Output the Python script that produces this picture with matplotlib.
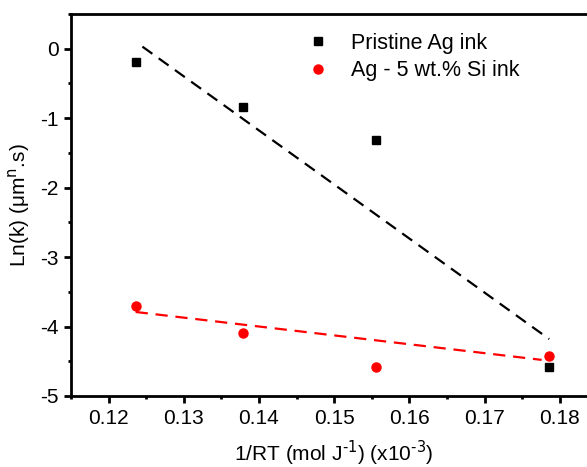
import matplotlib
matplotlib.use("Agg")
import matplotlib.pyplot as plt
from matplotlib.ticker import MultipleLocator, AutoMinorLocator

plt.rcParams['font.family'] = ['Liberation Sans', 'DejaVu Sans']

# Data
x_pristine = [0.1236, 0.13785, 0.1556, 0.1786]
y_pristine = [-0.19, -0.84, -1.32, -4.58]
x_si = [0.1236, 0.13785, 0.1556, 0.1786]
y_si = [-3.71, -4.10, -4.58, -4.42]

# Fit lines (endpoints)
fit_x_pristine = [0.1245, 0.1786]
fit_y_pristine = [0.03, -4.18]
fit_x_si = [0.1236, 0.1776]
fit_y_si = [-3.79, -4.48]

labels = ['Pristine Ag ink', 'Ag - 5 wt.% Si ink']

fig = plt.figure(figsize=(5.87, 4.67), dpi=100)
ax = fig.add_axes([71/587, 71/467, 526.3/587, 382/467])

ax.plot(fit_x_pristine, fit_y_pristine, color='black', lw=1.6, dashes=(5.5, 3.5), zorder=2)
ax.plot(fit_x_si, fit_y_si, color='red', lw=1.6, dashes=(5.5, 3.5), zorder=2)
ax.plot(x_pristine, y_pristine, ls='none', marker='s', ms=5.5, color='black', label=labels[0], zorder=3)
ax.plot(x_si, y_si, ls='none', marker='o', ms=6.5, color='red', label=labels[1], zorder=3)

ax.set_xlim(0.115, 0.185)
ax.set_ylim(-5, 0.5)
ax.xaxis.set_minor_locator(AutoMinorLocator(2))
ax.yaxis.set_minor_locator(AutoMinorLocator(2))
ax.set_xticks([0.12, 0.13, 0.14, 0.15, 0.16, 0.17, 0.18])
ax.set_xticklabels(['0.12', '0.13', '0.14', '0.15', '0.16', '0.17', '0.18'])
ax.set_yticks([0, -1, -2, -3, -4, -5])
ax.set_yticklabels(['0', '-1', '-2', '-3', '-4', '-5'])

for s in ax.spines.values():
    s.set_linewidth(2)
ax.tick_params(which='major', direction='out', length=5, width=2, labelsize=15, pad=4)
ax.tick_params(which='minor', direction='out', length=2.5, width=2)

ax.set_xlabel('1/RT (mol J$^{\\text{-1}}$) (x10$^{\\text{-3}}$)', fontsize=15, labelpad=8)
ax.set_ylabel('Ln(k) (μm$^{\\text{n}}$.s)', fontsize=15, labelpad=6)

leg = ax.legend(loc='upper left', bbox_to_anchor=(0.433, 0.973), frameon=False, fontsize=15.5,
                handlelength=1.0, handletextpad=1.0, labelspacing=0.3, borderaxespad=0)

fig.savefig('out.png', dpi=100)
